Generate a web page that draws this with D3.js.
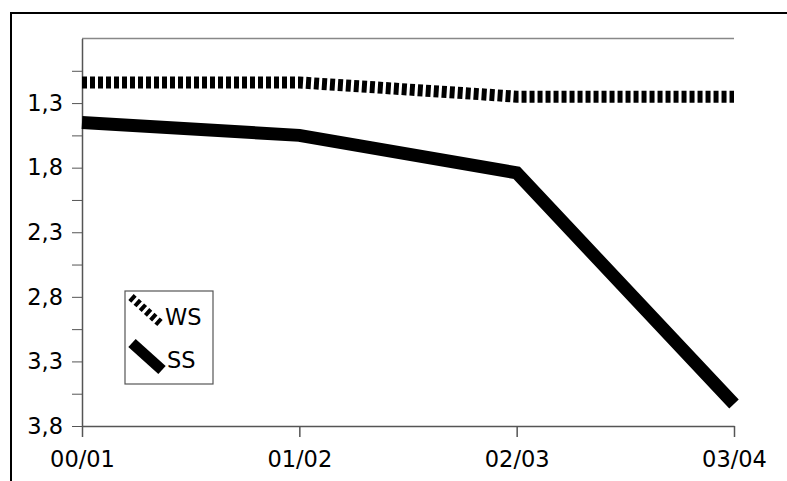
<!DOCTYPE html>
<html>
<head>
<meta charset="utf-8">
<script src="https://cdn.jsdelivr.net/npm/d3@7"></script>
<style>
body { margin:0; background:#fff; }
svg { display:block; }
.axis path, .axis line { stroke:#555; }
.axis text, .legendText { font-family:"DejaVu Sans", sans-serif; font-size:22.5px; fill:#000; }
</style>
</head>
<body>
<div id="chart"></div>
<script>
var seasons = ["00/01","01/02","02/03","03/04"]
var wsValues = [1.14, 1.14, 1.25, 1.25]
var ssValues = [1.45, 1.55, 1.84, 3.63]
var yTicks = [1.05,1.3,1.55,1.8,2.05,2.3,2.55,2.8,3.05,3.3,3.55,3.8]
var yLabels = [1.3,1.8,2.3,2.8,3.3,3.8]
var yDomain = [0.8,3.8]

var width = 787
var height = 481
var plotL = 82
var plotR = 734
var plotT = 38.5
var plotB = 426

var svg = d3.select("#chart").append("svg")
  .attr("width",width)
  .attr("height",height)

/* outer frame, clipped by window */
svg.append("rect")
  .attr("x",11)
  .attr("y",13)
  .attr("width",900)
  .attr("height",600)
  .attr("fill","none")
  .attr("stroke","#000")
  .attr("stroke-width",2)

var xScale = d3.scalePoint()
  .domain(seasons)
  .range([plotL,plotR])
var yScale = d3.scaleLinear()
  .domain(yDomain)
  .range([plotT,plotB])

function commaFmt(v) {
  if (yLabels.indexOf(v) < 0) return ""
  return d3.format(".1f")(v).replace(".",",")
}

/* top border of plot */
svg.append("line")
  .attr("x1",plotL)
  .attr("x2",plotR)
  .attr("y1",plotT)
  .attr("y2",plotT)
  .attr("stroke","#888")
  .attr("stroke-width",1.5)

var yAxis = svg.append("g")
  .attr("class","axis")
  .attr("transform","translate(" + plotL + ",0)")
  .call(d3.axisLeft(yScale)
    .tickValues(yTicks)
    .tickFormat(commaFmt)
    .tickSize(10)
    .tickSizeOuter(0)
    .tickPadding(9))
yAxis.select(".domain").attr("stroke-width",1.5)

var xAxis = svg.append("g")
  .attr("class","axis")
  .attr("transform","translate(0," + plotB + ")")
  .call(d3.axisBottom(xScale)
    .tickSize(11)
    .tickSizeOuter(0)
    .tickPadding(14))
xAxis.select(".domain").attr("stroke-width",1.5)
xAxis.selectAll(".tick line").attr("stroke-width",1.5)

/* lines */
function seriesLine(values) {
  return d3.line()
    .x(function(d,i) { return xScale(seasons[i]) })
    .y(function(d) { return yScale(d) })(values)
}

svg.append("path")
  .attr("d",seriesLine(wsValues))
  .attr("fill","none")
  .attr("stroke","#000")
  .attr("stroke-width",12)
  .attr("stroke-dasharray","5,3")

svg.append("path")
  .attr("d",seriesLine(ssValues))
  .attr("fill","none")
  .attr("stroke","#000")
  .attr("stroke-width",13)
  .attr("stroke-linejoin","miter")

/* legend */
var legend = svg.append("g")
legend.append("rect")
  .attr("x",125)
  .attr("y",291)
  .attr("width",88)
  .attr("height",93)
  .attr("fill","#fff")
  .attr("stroke","#555")
  .attr("stroke-width",1.2)
legend.append("line")
  .attr("x1",131)
  .attr("y1",297)
  .attr("x2",161)
  .attr("y2",324)
  .attr("stroke","#000")
  .attr("stroke-width",8)
  .attr("stroke-dasharray","4,3")
legend.append("line")
  .attr("x1",132)
  .attr("y1",343)
  .attr("x2",162)
  .attr("y2",370)
  .attr("stroke","#000")
  .attr("stroke-width",11)
legend.append("text")
  .attr("class","legendText")
  .attr("x",165)
  .attr("y",325)
  .text("WS")
legend.append("text")
  .attr("class","legendText")
  .attr("x",167)
  .attr("y",368)
  .text("SS")
</script>
</body>
</html>
